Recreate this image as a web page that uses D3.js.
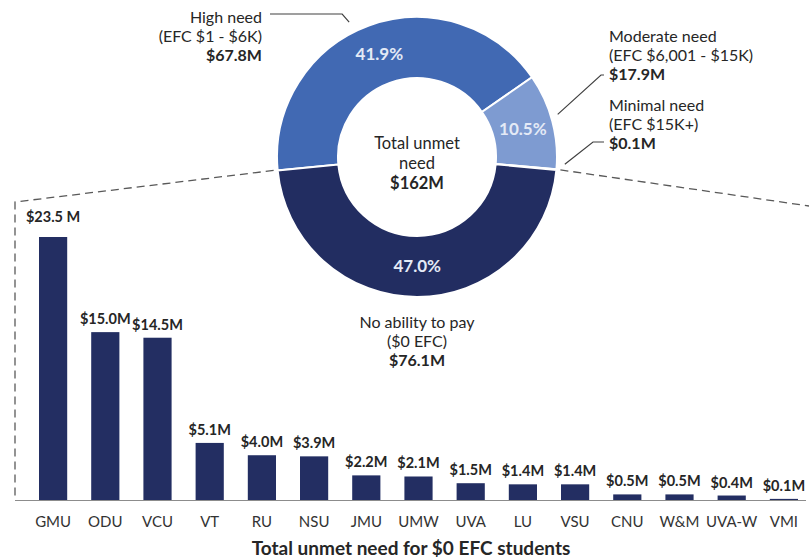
<!DOCTYPE html>
<html>
<head>
<meta charset="utf-8">
<script src="https://cdn.jsdelivr.net/npm/d3@7"></script>
<style>
  body { margin: 0; background: #fff; }
  text { font-family: Lato, "Open Sans", sans-serif; fill: #262626; }
</style>
</head>
<body>
<div id="chart"></div>
<script>
// donut data
var segNames = ["High need", "Moderate need", "Minimal need", "No ability to pay"];
var segRanges = ["(EFC $1 - $6K)", "(EFC $6,001 - $15K)", "(EFC $15K+)", "($0 EFC)"];
var segValues = [67.8, 17.9, 0.1, 76.1];
var segAmounts = ["$67.8M", "$17.9M", "$0.1M", "$76.1M"];
var segPercents = ["41.9%", "10.5%", "", "47.0%"];
var segColors = ["#4169b3", "#7e9bd1", "#a9bde3", "#222d61"];

// bar data
var schools = ["GMU", "ODU", "VCU", "VT", "RU", "NSU", "JMU", "UMW", "UVA", "LU", "VSU", "CNU", "W&M", "UVA-W", "VMI"];
var unmet = [23.5, 15.0, 14.5, 5.1, 4.0, 3.9, 2.2, 2.1, 1.5, 1.4, 1.4, 0.5, 0.5, 0.4, 0.1];
var unmetLabels = ["$23.5 M", "$15.0M", "$14.5M", "$5.1M", "$4.0M", "$3.9M", "$2.2M", "$2.1M", "$1.5M", "$1.4M", "$1.4M", "$0.5M", "$0.5M", "$0.4M", "$0.1M"];

var W = 809, H = 558;
var svg = d3.select("#chart").append("svg")
    .attr("width", W)
    .attr("height", H);

var cx = 417, cy = 157, rOut = 140, rIn = 79;
var start = -95.5 * Math.PI / 180;

var pie = d3.pie().sort(null).value(function(d) { return d; })
    .startAngle(start).endAngle(start + 2 * Math.PI);
var arcs = pie(segValues);
var arc = d3.arc().innerRadius(rIn).outerRadius(rOut);
var midArc = d3.arc().innerRadius((rIn + rOut) / 2).outerRadius((rIn + rOut) / 2);

function pt(angle, r) {
  return [cx + r * Math.sin(angle), cy - r * Math.cos(angle)];
}

// dashed lines from donut down to the bar box
var leftEdge = pt(arcs[3].endAngle, rOut);
var rightEdge = pt(arcs[2].endAngle, rOut);
var baseY = 500, boxX = 15;
svg.append("path")
    .attr("d", "M" + (leftEdge[0] - 4) + "," + leftEdge[1] + " L" + boxX + ",202 L" + boxX + "," + baseY)
    .attr("fill", "none")
    .attr("stroke", "#595959")
    .attr("stroke-width", 1.3)
    .attr("stroke-dasharray", "8,5");
svg.append("path")
    .attr("d", "M" + (rightEdge[0] + 4) + "," + rightEdge[1] + " L" + W + ",206")
    .attr("fill", "none")
    .attr("stroke", "#595959")
    .attr("stroke-width", 1.3)
    .attr("stroke-dasharray", "8,5");

var g = svg.append("g").attr("transform", "translate(" + cx + "," + cy + ")");
g.selectAll("path.seg")
  .data(arcs)
  .enter()
  .append("path")
    .attr("class", "seg")
    .attr("d", arc)
    .attr("fill", function(d, i) { return segColors[i]; })
    .attr("stroke", "#fff")
    .attr("stroke-width", 2);

g.selectAll("text.pct")
  .data(arcs)
  .enter()
  .append("text")
    .attr("class", "pct")
    .attr("transform", function(d) { return "translate(" + midArc.centroid(d) + ")"; })
    .attr("dy", "0.35em")
    .attr("text-anchor", "middle")
    .style("fill", "#e4eaf6")
    .style("font-size", "17px")
    .style("font-weight", "bold")
    .text(function(d, i) { return segPercents[i]; });

// center text
var ctr = svg.append("text").attr("x", cx).attr("text-anchor", "middle").style("font-size", "16.5px");
ctr.append("tspan").attr("x", cx).attr("y", cy - 8).text("Total unmet");
ctr.append("tspan").attr("x", cx).attr("y", cy + 12).text("need");
ctr.append("tspan").attr("x", cx).attr("y", cy + 32).style("font-weight", "bold").text("$162M");

// outside labels
function label(x, y, i, anchor) {
  var t = svg.append("text").attr("text-anchor", anchor).style("font-size", "16px");
  t.append("tspan").attr("x", x).attr("y", y).text(segNames[i]);
  t.append("tspan").attr("x", x).attr("y", y + 19).text(segRanges[i]);
  t.append("tspan").attr("x", x).attr("y", y + 38).style("font-weight", "bold").text(segAmounts[i]);
}
label(262, 23, 0, "end");
label(609, 42, 1, "start");
label(609, 111, 2, "start");
label(cx, 328, 3, "middle");

// leader lines
var lead = svg.append("g").attr("fill", "none").attr("stroke", "#404040").attr("stroke-width", 1.2);
var pHigh = pt(-26.7 * Math.PI / 180, rOut + 11);
lead.append("path").attr("d", "M270,14 L" + (pHigh[0] - 7) + ",14 L" + pHigh[0] + "," + pHigh[1]);
var pMod = pt((arcs[1].startAngle + arcs[1].endAngle) / 2 - 2 * Math.PI / 180, rOut + 7);
lead.append("path").attr("d", "M604,75 L601,75 L" + pMod[0] + "," + pMod[1]);
var pMin = pt(arcs[2].endAngle - 2.5 * Math.PI / 180, rOut + 8);
lead.append("path").attr("d", "M604,142 L593,142 L" + pMin[0] + "," + pMin[1]);

// bars
var x = d3.scaleBand()
    .domain(schools)
    .range([27, 810])
    .paddingInner(0.46)
    .paddingOuter(0.23);
var y = d3.scaleLinear()
    .domain([0, 23.5])
    .range([baseY, 237]);

svg.selectAll("rect.bar")
  .data(unmet)
  .enter()
  .append("rect")
    .attr("class", "bar")
    .attr("x", function(d, i) { return x(schools[i]); })
    .attr("y", function(d) { return y(d); })
    .attr("width", x.bandwidth())
    .attr("height", function(d) { return baseY - y(d); })
    .attr("fill", "#232e62");

svg.selectAll("text.val")
  .data(unmet)
  .enter()
  .append("text")
    .attr("class", "val")
    .attr("x", function(d, i) { return x(schools[i]) + x.bandwidth() / 2; })
    .attr("y", function(d, i) { return y(d) - (i == 0 ? 15 : 8); })
    .attr("text-anchor", "middle")
    .style("font-size", "14.5px")
    .style("font-weight", "bold")
    .text(function(d, i) { return unmetLabels[i]; });

var xAxis = svg.append("g")
    .attr("transform", "translate(0," + baseY + ")")
    .call(d3.axisBottom(x).tickSize(0).tickPadding(16));
xAxis.select(".domain").remove();
xAxis.selectAll("text")
    .style("font-size", "15px")
    .style("font-family", "Lato, 'Open Sans', sans-serif")
    .style("fill", "#333");
svg.append("line")
    .attr("x1", boxX).attr("x2", 806)
    .attr("y1", baseY + 0.5).attr("y2", baseY + 0.5)
    .attr("stroke", "#8c8c8c")
    .attr("stroke-width", 1.2);

svg.append("text")
    .attr("x", 411)
    .attr("y", 555)
    .attr("text-anchor", "middle")
    .style("font-size", "19px")
    .style("font-weight", "bold")
    .text("Total unmet need for $0 EFC students");
</script>
</body>
</html>
